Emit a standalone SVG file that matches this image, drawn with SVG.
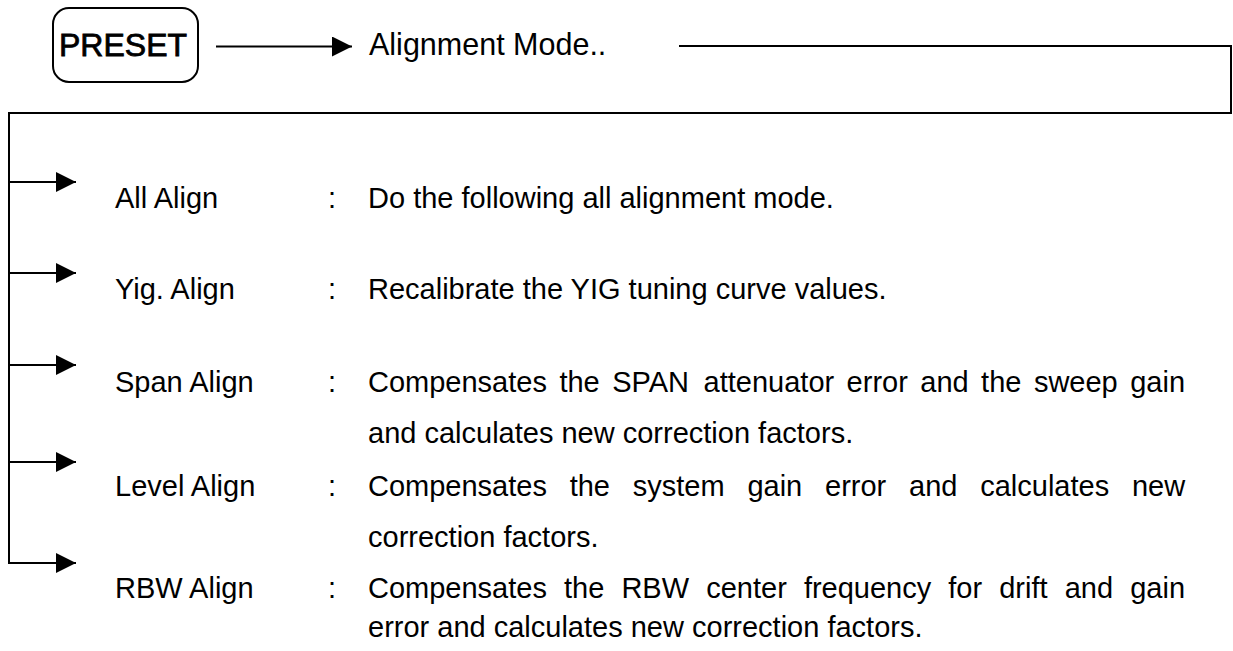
<svg xmlns="http://www.w3.org/2000/svg" width="1233" height="651" viewBox="0 0 1233 651">
<style>
text{font-family:"Liberation Sans",Arial,sans-serif;fill:#000}
.t{font-size:29px}
.conn{stroke:#000;stroke-width:2;fill:none}
</style>
<defs>
<marker id="ah" markerUnits="userSpaceOnUse" markerWidth="20" markerHeight="20" refX="20" refY="10" orient="auto">
<path d="M0,0 L20,10 L0,20 z" fill="#000"/>
</marker>
</defs>
<rect width="1233" height="651" fill="#fff"/>
<g id="preset">
<rect x="53" y="8" width="145" height="74" rx="16" ry="16" fill="#fff" stroke="#000" stroke-width="2"/>
<text x="123" y="56" font-size="32" stroke="#000" stroke-width="0.8" text-anchor="middle">PRESET</text>
</g>
<g id="alignment-mode">
<text x="369" y="55" font-size="30.5">Alignment Mode..</text>
</g>
<g id="connectors">
<line class="conn" x1="216" y1="46.5" x2="352" y2="46.5" marker-end="url(#ah)"/>
<polyline class="conn" points="679,46 1231,46 1231,113 9,113 9,563"/>
<line class="conn" x1="9" y1="182" x2="76" y2="182" marker-end="url(#ah)"/>
<line class="conn" x1="9" y1="273" x2="76" y2="273" marker-end="url(#ah)"/>
<line class="conn" x1="9" y1="365" x2="76" y2="365" marker-end="url(#ah)"/>
<line class="conn" x1="9" y1="462" x2="76" y2="462" marker-end="url(#ah)"/>
<line class="conn" x1="8" y1="563" x2="76" y2="563" marker-end="url(#ah)"/>
</g>
<g id="all-align" class="t">
<text x="115" y="208">All Align</text>
<text x="328" y="208">:</text>
<text x="368" y="208">Do the following all alignment mode.</text>
</g>
<g id="yig-align" class="t">
<text x="115" y="299">Yig. Align</text>
<text x="328" y="299">:</text>
<text x="368" y="299">Recalibrate the YIG tuning curve values.</text>
</g>
<g id="span-align" class="t">
<text x="115" y="392">Span Align</text>
<text x="328" y="392">:</text>
<text y="392"><tspan x="368">Compensates</tspan><tspan x="559.4">the</tspan><tspan x="612.2">SPAN</tspan><tspan x="703.6">attenuator</tspan><tspan x="846.6">error</tspan><tspan x="920.3">and</tspan><tspan x="981.1">the</tspan><tspan x="1033.9">sweep</tspan><tspan x="1130.2">gain</tspan></text>
<text x="368" y="443">and calculates new correction factors.</text>
</g>
<g id="level-align" class="t">
<text x="115" y="496">Level Align</text>
<text x="328" y="496">:</text>
<text y="496"><tspan x="368">Compensates</tspan><tspan x="569.7">the</tspan><tspan x="632.8">system</tspan><tspan x="747.4">gain</tspan><tspan x="825">error</tspan><tspan x="909">and</tspan><tspan x="980.2">calculates</tspan><tspan x="1131.9">new</tspan></text>
<text x="368" y="547">correction factors.</text>
</g>
<g id="rbw-align" class="t">
<text x="115" y="598">RBW Align</text>
<text x="328" y="598">:</text>
<text y="598"><tspan x="368">Compensates</tspan><tspan x="564">the</tspan><tspan x="621.4">RBW</tspan><tspan x="706.2">center</tspan><tspan x="803.9">frequency</tspan><tspan x="948.3">for</tspan><tspan x="999.2">drift</tspan><tspan x="1064.7">and</tspan><tspan x="1130.2">gain</tspan></text>
<text x="368" y="637">error and calculates new correction factors.</text>
</g>
</svg>
